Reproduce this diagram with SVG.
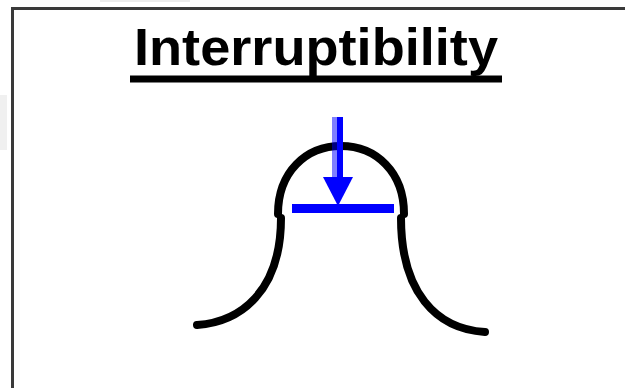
<svg xmlns="http://www.w3.org/2000/svg" width="625" height="388" viewBox="0 0 625 388">
<style>
.curve{fill:none;stroke:#000;stroke-width:8;stroke-linecap:round;stroke-linejoin:round}
.blue{fill:#0000ff}
</style>
<rect width="625" height="388" fill="#fff"/>
<rect x="100" y="0" width="90" height="2" fill="#ececec"/>
<rect x="0" y="95" width="7" height="55" fill="#f0f0f0"/>
<g id="frame">
<path d="M12.5 388 V8.5 H625" fill="none" stroke="#3a3a3a" stroke-width="3"/>
</g>
<g id="title">
<text x="134" y="65" font-family="Liberation Sans, Arial, sans-serif" font-weight="bold" font-size="52" textLength="364" lengthAdjust="spacingAndGlyphs">Interruptibility</text>
<rect x="130" y="75.5" width="372" height="7" fill="#000"/>
</g>
<g id="bell">
<path class="curve" d="M278 214 C278 172 306 146 341 146 C376 146 404 172 404 214"/>
<path class="curve" d="M281 218 C281 292 240 322 197 325"/>
<path class="curve" d="M401 218 C401 292 436 329 485 332"/>
</g>
<g id="arrow">
<rect x="337" y="117" width="6" height="62" class="blue"/>
<rect x="332" y="117" width="5" height="62" fill="#0000ff" opacity="0.5"/>
<polygon points="323,177 353,177 338,206" class="blue"/>
<rect x="292" y="204" width="102" height="9" class="blue"/>
</g>
</svg>
